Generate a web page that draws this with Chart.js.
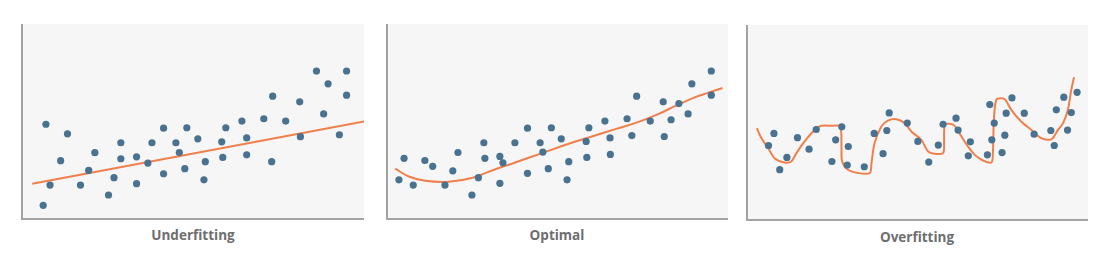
<!DOCTYPE html>
<html>
<head>
<meta charset="utf-8">
<script src="https://cdn.jsdelivr.net/npm/chart.js@4.4.0/dist/chart.umd.min.js"></script>
<style>
  body { margin: 0; background: #fff; width: 1106px; height: 268px; position: relative; overflow: hidden; }
  .panel { position: absolute; }
  .label { position: absolute; font-family: "Open Sans", sans-serif; font-weight: bold; font-size: 13.5px; color: #6e6e6e; transform: translateX(-50%); white-space: nowrap; }
</style>
</head>
<body>

<!-- plot rects: 22..364 x 24..219, 387..728 x 24..219, 747..1088 x 25..220 -->
<div class="panel" style="left:20px;top:24px;width:344px;height:197px"><canvas id="c1"></canvas></div>
<div class="panel" style="left:385px;top:24px;width:343px;height:197px"><canvas id="c2"></canvas></div>
<div class="panel" style="left:745px;top:25px;width:343px;height:197px"><canvas id="c3"></canvas></div>

<div class="label" style="left:193px;top:226px">Underfitting</div>
<div class="label" style="left:557px;top:226px">Optimal</div>
<div class="label" style="left:917px;top:228px">Overfitting</div>

<script>
// scatter points, [x, y] on a 0-100 scale
const underPoints = [
  [6.2,7.0],[7.0,48.6],[8.2,17.4],[11.3,29.9],[13.3,43.7],[17.1,17.4],[19.5,24.9],[21.3,34.0],
  [25.3,12.3],[26.9,21.2],[28.9,39.1],[28.9,30.9],[33.5,31.9],[33.5,18.1],[36.8,28.7],[38.0,39.1],
  [41.4,46.6],[41.4,23.2],[45.0,39.1],[46.0,34.1],[47.6,25.8],[48.2,46.8],[51.4,41.1],[53.2,20.1],
  [53.6,29.4],[58.4,39.6],[58.7,31.6],[59.6,46.8],[64.3,50.2],[65.7,41.6],[65.7,32.9],[70.7,51.4],
  [73.0,29.4],[73.3,63.0],[77.1,50.2],[81.2,60.1],[81.4,42.2],[86.1,75.9],[88.2,53.9],[89.5,69.3],
  [92.8,43.2],[94.9,75.9],[94.9,63.5]
];
const underLine = [[3.0,18.1],[100,50.0]];

const optimalPoints = [
  [3.5,20.1],[5.0,31.1],[7.7,17.4],[11.1,30.0],[13.4,27.0],[17.0,17.4],[19.3,24.7],[20.8,34.1],
  [24.9,12.3],[26.8,21.2],[28.4,39.1],[28.7,31.1],[33.1,32.1],[34.0,28.8],[33.1,18.3],[37.5,39.1],
  [41.2,46.6],[41.2,23.4],[44.9,39.1],[45.7,34.3],[47.3,25.8],[48.2,46.8],[51.1,41.1],[52.8,20.1],
  [53.3,29.4],[58.4,39.8],[58.6,31.6],[59.2,46.8],[63.9,50.2],[65.4,41.6],[65.5,33.1],[70.4,51.4],
  [71.8,42.8],[73.2,63.0],[77.2,50.2],[81.0,60.1],[81.3,42.3],[83.3,50.9],[85.6,59.2],[88.3,53.9],
  [89.4,69.3],[95.1,75.9],[95.1,63.5]
];
const optimalCurve = [
  [2.4,25.8],[6.4,21.8],[11.2,19.6],[18.1,19.1],[24.9,21.0],[30.8,24.9],[37.6,29.0],[45.5,33.8],
  [53.3,38.6],[60.1,42.3],[67.0,46.1],[73.8,49.8],[79.7,53.9],[84.6,58.0],[90.4,62.5],[94.3,64.8],
  [98.4,67.2]
];

const overPoints = [
  [6.3,38.2],[7.9,44.4],[9.6,25.8],[11.7,32.1],[14.8,42.2],[18.2,36.3],[20.3,46.4],[24.9,30.0],
  [26.0,41.1],[27.8,47.8],[29.4,28.2],[29.7,37.7],[34.4,27.3],[37.3,44.4],[39.9,34.0],[41.0,45.9],
  [41.7,54.9],[47.0,49.7],[50.1,40.3],[53.3,29.7],[56.1,38.4],[57.5,49.1],[61.3,52.2],[61.9,46.1],
  [64.9,32.9],[65.5,40.1],[70.5,33.4],[71.2,59.2],[71.8,41.1],[72.5,49.7],[74.8,34.6],[75.6,43.5],
  [76.0,54.8],[77.7,62.6],[81.3,54.8],[84.2,44.0],[89.1,45.9],[90.1,38.2],[90.7,56.5],[92.9,63.0],
  [94.0,46.1],[95.1,55.1],[96.8,65.5]
];
const overCurve = [
  [2.9,47.1],[4.2,42.0],[6.2,36.9],[8.1,31.7],[11.0,29.5],[13.0,30.0],[14.5,34.3],[16.9,40.3],
  [19.8,46.2],[21.8,48.3],[24.7,48.3],[27.3,48.0],[27.7,37.7],[27.9,30.0],[29.6,25.8],[32.6,24.1],
  [36.0,24.1],[36.5,29.2],[37.4,39.4],[39.4,48.0],[41.3,51.0],[43.8,51.7],[46.2,49.7],[48.2,45.4],
  [51.1,41.1],[53.1,35.2],[55.0,34.0],[57.5,34.3],[57.8,39.4],[58.0,48.8],[59.4,49.3],[60.9,48.3],
  [62.9,42.8],[64.8,37.7],[66.8,33.4],[69.2,30.5],[71.7,29.5],[72.1,34.3],[72.4,51.4],[73.1,61.6],
  [74.6,62.5],[75.8,61.6],[77.5,56.5],[80.4,50.5],[83.4,46.2],[86.3,42.0],[88.8,41.1],[89.7,42.0],
  [91.2,46.2],[92.7,49.7],[94.1,56.5],[95.1,66.7],[95.9,73.2]
];

const dotColor = '#48728f';
const lineColor = '#f07f4c';

// light grey fill behind the plot area
const plotBg = {
  id: 'plotBg',
  beforeDraw(chart) {
    const a = chart.chartArea, ctx = chart.ctx;
    ctx.save();
    ctx.fillStyle = '#f6f6f6';
    ctx.fillRect(a.left, a.top, a.right - a.left, a.bottom - a.top);
    ctx.restore();
  }
};

function toXY(arr) {
  return arr.map(p => ({x: p[0], y: p[1]}));
}

function makePanel(id, points, curve, tension) {
  new Chart(document.getElementById(id), {
    type: 'scatter',
    data: {
      datasets: [
        {
          data: toXY(curve),
          showLine: true,
          borderColor: lineColor,
          borderWidth: 2,
          pointRadius: 0,
          tension: tension,
          clip: false,
          order: 1
        },
        {
          data: toXY(points),
          backgroundColor: dotColor,
          borderWidth: 0,
          pointRadius: 3.6,
          clip: false,
          order: 0
        }
      ]
    },
    options: {
      responsive: true,
      maintainAspectRatio: false,
      animation: false,
      events: [],
      layout: { autoPadding: false, padding: { left: 2, bottom: 2, top: 0, right: 0 } },
      plugins: { legend: { display: false }, tooltip: { enabled: false } },
      scales: {
        x: {
          min: 0, max: 100,
          ticks: { display: false },
          grid: { display: false },
          border: { display: true, color: '#a3a3a3', width: 2 },
          afterFit(s) { s.height = 0; }
        },
        y: {
          min: 0, max: 100,
          ticks: { display: false },
          grid: { display: false },
          border: { display: true, color: '#a3a3a3', width: 2 },
          afterFit(s) { s.width = 0; }
        }
      }
    },
    plugins: [plotBg]
  });
}

makePanel('c1', underPoints, underLine, 0);
makePanel('c2', optimalPoints, optimalCurve, 0.4);
makePanel('c3', overPoints, overCurve, 0.3);
</script>
</body>
</html>
